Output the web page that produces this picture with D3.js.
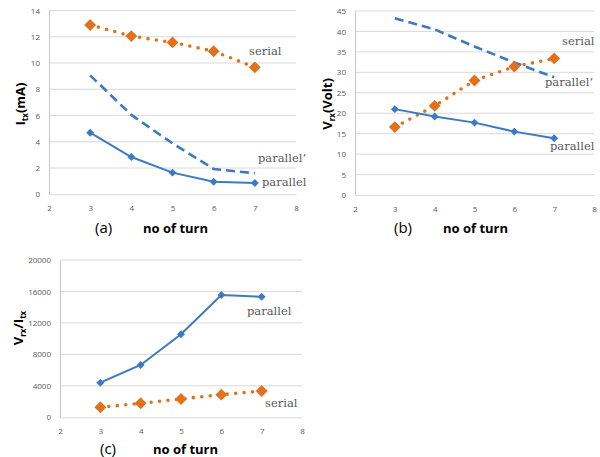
<!DOCTYPE html>
<html>
<head>
<meta charset="utf-8">
<script src="https://cdn.jsdelivr.net/npm/d3@7"></script>
<style>
body { margin: 0; background: #fff; }
svg { display: block; }
.tick text { font-family: "Open Sans", "Liberation Sans", sans-serif; font-size: 8px; fill: #595959; }
.grid line { stroke: #d9d9d9; stroke-width: 1; }
.ser-label { font-family: "DejaVu Serif", "Liberation Serif", serif; font-size: 11.5px; fill: #595959; }
.ytitle { font-family: "Open Sans", "Liberation Sans", sans-serif; font-size: 13px; font-weight: bold; fill: #000; }
.xtitle { font-family: "Open Sans", "Liberation Sans", sans-serif; font-size: 13px; font-weight: bold; fill: #000; }
.panel-tag { font-family: "Open Sans", "Liberation Sans", sans-serif; font-size: 15px; fill: #000; }
</style>
</head>
<body>
<script>
const WIDTH = 600;
const HEIGHT = 457;
const BLUE = '#3d7ac3';
const ORANGE = '#e2711d';

// data
const turns = [3, 4, 5, 6, 7];
const xTicks = [2, 3, 4, 5, 6, 7, 8];

const currentSerial = [12.9, 12.05, 11.57, 10.9, 9.67];
const currentParallelP = [9.06, 6.05, 3.88, 1.93, 1.6];
const currentParallel = [4.69, 2.84, 1.65, 0.96, 0.86];

const voltSerial = [16.6, 21.8, 28.0, 31.4, 33.4];
const voltParallelP = [43.2, 40.5, 36.3, 32.4, 28.8];
const voltParallel = [21.0, 19.2, 17.7, 15.5, 13.9];

const ratioParallel = [4400, 6650, 10550, 15550, 15330];
const ratioSerial = [1270, 1780, 2330, 2880, 3340];

const yTicksA = [0, 2, 4, 6, 8, 10, 12, 14];
const yTicksB = [0, 5, 10, 15, 20, 25, 30, 35, 40, 45];
const yTicksC = [0, 4000, 8000, 12000, 16000, 20000];

const svg = d3.select('body').append('svg')
	.attr('width', WIDTH)
	.attr('height', HEIGHT);

var drawPanel = function(p){
	var xScale = d3.scaleLinear().domain([2, 8]).range([p.left, p.right]);
	var yScale = d3.scaleLinear().domain([0, d3.max(p.yTicks)]).range([p.bottom, p.top]);
	var g = svg.append('g');

	// horizontal grid
	g.append('g').attr('class', 'grid')
		.selectAll('line').data(p.yTicks.slice(1)).enter()
		.append('line')
		.attr('x1', p.left).attr('x2', p.right)
		.attr('y1', d => yScale(d)).attr('y2', d => yScale(d));

	var yAxis = d3.axisLeft(yScale).tickValues(p.yTicks).tickFormat(d3.format('d')).tickSize(0).tickPadding(9);
	var ya = g.append('g').attr('transform', 'translate(' + p.left + ',0)').call(yAxis);
	ya.select('.domain').attr('stroke', '#c8c8c8');

	var xAxis = d3.axisBottom(xScale).tickValues(xTicks).tickFormat(d3.format('d')).tickSize(0).tickPadding(11);
	var xa = g.append('g').attr('transform', 'translate(0,' + p.bottom + ')').call(xAxis);
	xa.select('.domain').attr('stroke', '#d9d9d9');

	var line = d3.line()
		.x(d => xScale(d.x))
		.y(d => yScale(d.y));

	p.series.forEach(function(s){
		var pts = turns.map((t, i) => ({x: t, y: s.values[i]}));
		var path = g.append('path')
			.attr('d', line(pts))
			.attr('fill', 'none')
			.attr('stroke', s.color);
		if (s.style === 'dotted') {
			path.attr('stroke-width', 3.6).attr('stroke-linecap', 'round').attr('stroke-dasharray', '0,8.5');
		} else if (s.style === 'dashed') {
			path.attr('stroke-width', 2.6).attr('stroke-dasharray', '9,5');
		} else {
			path.attr('stroke-width', 2);
		}
		if (s.marker) {
			g.append('g').selectAll('path').data(pts).enter()
				.append('path')
				.attr('d', d3.symbol().type(d3.symbolDiamond2).size(s.marker))
				.attr('transform', d => 'translate(' + xScale(d.x) + ',' + yScale(d.y) + ')')
				.attr('fill', s.color);
		}
		g.append('text').attr('class', 'ser-label')
			.attr('x', s.label[1]).attr('y', s.label[2])
			.text(s.label[0]);
	});

	// y title (rotated) with subscripts
	var yt = g.append('text').attr('class', 'ytitle')
		.attr('text-anchor', 'middle')
		.attr('transform', 'translate(' + p.ytitle.x + ',' + p.ytitle.y + ') rotate(-90)');
	p.ytitle.parts.forEach(function(part){
		var ts = yt.append('tspan').text(part[0]);
		if (part[1]) ts.attr('font-size', '8px').attr('dy', 3);
		else if (part[2]) ts.attr('dy', -3);
	});

	g.append('text').attr('class', 'panel-tag')
		.attr('x', p.tag.x).attr('y', p.tag.y).text(p.tag.text);
	g.append('text').attr('class', 'xtitle')
		.attr('x', p.xtitle.x).attr('y', p.xtitle.y).text('no of turn');
};

drawPanel({
	left: 49, right: 296, top: 10.5, bottom: 194.3,
	yTicks: yTicksA,
	series: [
		{values: currentSerial, color: ORANGE, style: 'dotted', marker: 90, label: ['serial', 249, 55]},
		{values: currentParallelP, color: BLUE, style: 'dashed', marker: 0, label: ['parallel\u2019', 258, 162]},
		{values: currentParallel, color: BLUE, style: 'solid', marker: 40, label: ['parallel', 262, 186]}
	],
	ytitle: {x: 25, y: 104, parts: [['I', false], ['tx', true], ['(mA)', false, true]]},
	tag: {x: 95, y: 233, text: '(a)'},
	xtitle: {x: 143, y: 233}
});

drawPanel({
	left: 355, right: 594, top: 11, bottom: 195,
	yTicks: yTicksB,
	series: [
		{values: voltParallelP, color: BLUE, style: 'dashed', marker: 0, label: ['parallel\u2019', 545, 86]},
		{values: voltSerial, color: ORANGE, style: 'dotted', marker: 90, label: ['serial', 562, 45]},
		{values: voltParallel, color: BLUE, style: 'solid', marker: 40, label: ['parallel', 550, 150]}
	],
	ytitle: {x: 332, y: 104, parts: [['V', false], ['rx', true], ['(Volt)', false, true]]},
	tag: {x: 394, y: 233, text: '(b)'},
	xtitle: {x: 443, y: 233}
});

drawPanel({
	left: 60, right: 302, top: 260, bottom: 417.3,
	yTicks: yTicksC,
	series: [
		{values: ratioParallel, color: BLUE, style: 'solid', marker: 40, label: ['parallel', 247, 315]},
		{values: ratioSerial, color: ORANGE, style: 'dotted', marker: 90, label: ['serial', 265, 407]}
	],
	ytitle: {x: 23, y: 328, parts: [['V', false], ['rx', true], ['/I', false, true], ['tx', true]]},
	tag: {x: 100, y: 454, text: '(c)'},
	xtitle: {x: 153, y: 454}
});
</script>
</body>
</html>
